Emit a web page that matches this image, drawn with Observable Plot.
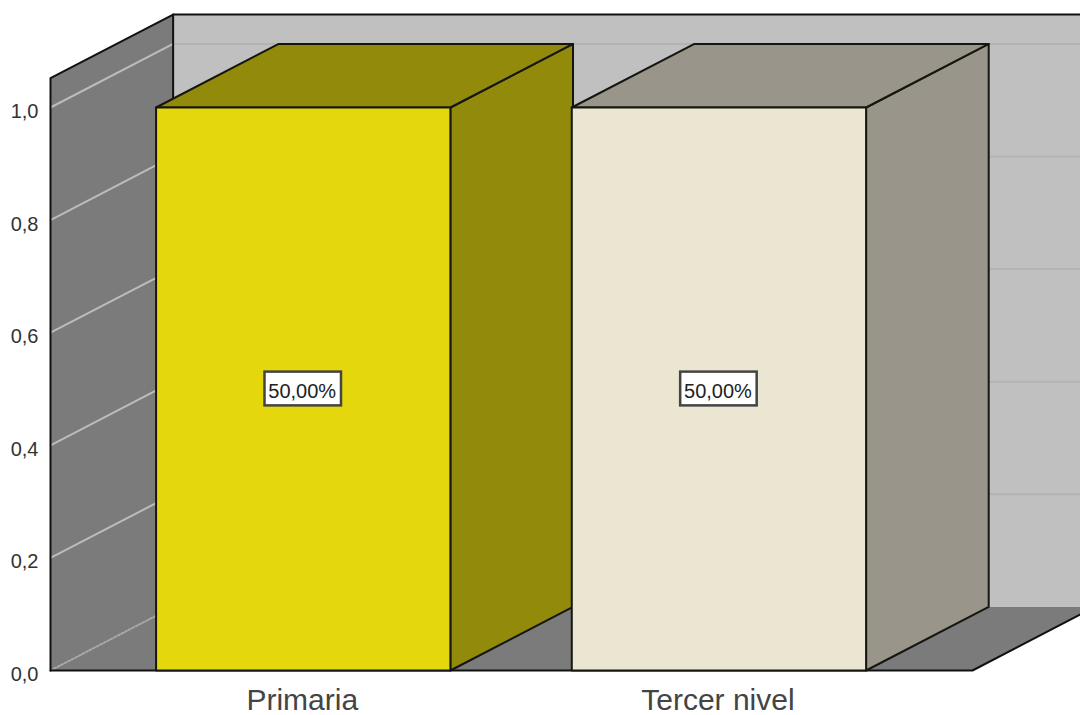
<!DOCTYPE html>
<html>
<head>
<meta charset="utf-8">
<script src="https://cdn.jsdelivr.net/npm/d3@7"></script>
<script src="https://cdn.jsdelivr.net/npm/@observablehq/plot@0.6"></script>
<style>
  html, body { margin: 0; padding: 0; background: #fff; }
  svg { display: block; }
</style>
</head>
<body>
<div id="chart"></div>
<script>
// Responses per education level; shares are derived from the counts.
const categories = ["Primaria", "Tercer nivel"];
const counts = [1, 1];
const yTicks = [0, 0.2, 0.4, 0.6, 0.8, 1];

const barFront = ["#e4d80c", "#ebe6d2"];
const barShade = ["#928a0a", "#99958a"];

// Oblique projection: how far the back plane sits from the front plane.
const depthX = 0.295;
const depthY = 0.113;
const barHalf = 0.354;
const xLeft = -0.608;
const xRight = 1.61;
const yTop = 1.052;

const back = (x, y) => ({x: x + depthX, y: y + depthY});
const pt = (x, y) => ({x, y});
const total = d3.sum(counts);
const shareText = c => (c / total * 100).toFixed(2).replace(".", ",") + "%";

const face = (points, fill) =>
  Plot.line(points, {x: "x", y: "y", fill, stroke: "none", curve: "linear-closed"});
const outlined = (points, fill) =>
  Plot.line(points, {x: "x", y: "y", fill, stroke: "#161610", strokeWidth: 2, curve: "linear-closed", strokeLinejoin: "round"});
const edge = (points, options = {}) =>
  Plot.line(points, {x: "x", y: "y", stroke: "#111", strokeWidth: 2, ...options});

const marks = [
  // Walls and floor
  face([back(xLeft, 0), back(xRight + 0.2, 0), back(xRight + 0.2, yTop), back(xLeft, yTop)], "#c0c0c0"),
  face([pt(xLeft, 0), back(xLeft, 0), back(xLeft, yTop), pt(xLeft, yTop)], "#7b7b7b"),
  face([pt(xLeft, 0), pt(xRight, 0), back(xRight, 0), back(xLeft, 0)], "#7b7b7b"),

  // Gridlines along both walls
  ...yTicks.filter(t => t > 0).flatMap(t => [
    edge([back(xLeft, t), back(xRight + 0.2, t)], {stroke: "#b3b3b3", strokeWidth: 2}),
    edge([pt(xLeft, t), back(xLeft, t)], {stroke: "#bcbcbc", strokeWidth: 2})
  ]),
  edge([pt(xLeft, 0), back(xLeft, 0)], {stroke: "#a8a8a8", strokeWidth: 2, strokeDasharray: "2 2"}),

  // Wall outlines
  edge([pt(xLeft, 0), pt(xLeft, yTop), back(xLeft, yTop), back(xRight + 0.2, yTop)]),
  edge([back(xLeft, yTop), back(xLeft, 0)]),
  edge([pt(xLeft, 0), pt(xRight, 0), back(xRight, 0)]),

  // Bars: side, top, then front face
  ...categories.flatMap((c, i) => {
    const x0 = i - barHalf, x1 = i + barHalf, v = counts[i];
    return [
      outlined([pt(x1, 0), back(x1, 0), back(x1, v), pt(x1, v)], barShade[i]),
      outlined([pt(x0, v), pt(x1, v), back(x1, v), back(x0, v)], barShade[i]),
      outlined([pt(x0, 0), pt(x1, 0), pt(x1, v), pt(x0, v)], barFront[i])
    ];
  }),

  // Percentage labels in a white box at mid-height
  Plot.rect(categories, {
    x1: (c, i) => i - 0.092,
    x2: (c, i) => i + 0.092,
    y1: (c, i) => counts[i] / 2 - 0.03,
    y2: (c, i) => counts[i] / 2 + 0.03,
    fill: "#fff",
    stroke: "#444",
    strokeWidth: 2.5
  }),
  Plot.text(categories, {
    x: (c, i) => i,
    y: (c, i) => counts[i] / 2,
    text: (c, i) => shareText(counts[i]),
    fontSize: 20,
    fill: "#222",
    dx: -1,
    dy: 3
  }),

  Plot.axisY({
    ticks: yTicks,
    tickFormat: d => d.toFixed(1).replace(".", ","),
    tickSize: 0,
    tickPadding: 12,
    fontSize: 20,
    fill: "#333",
    dy: 4,
    label: null
  }),
  Plot.axisX({
    ticks: [0, 1],
    tickFormat: i => categories[i],
    tickSize: 0,
    tickPadding: 18,
    fontSize: 30,
    fill: "#444",
    dx: -1,
    label: null
  })
];

const chart = Plot.plot({
  width: 1080,
  height: 715,
  marginLeft: 50,
  marginRight: 108,
  marginTop: 107,
  marginBottom: 45,
  style: {fontFamily: "'Liberation Sans', Arial, sans-serif", background: "#fff"},
  x: {domain: [xLeft, xRight], axis: null},
  y: {domain: [0, 1], axis: null},
  marks
});
document.getElementById("chart").appendChild(chart);
</script>
</body>
</html>
